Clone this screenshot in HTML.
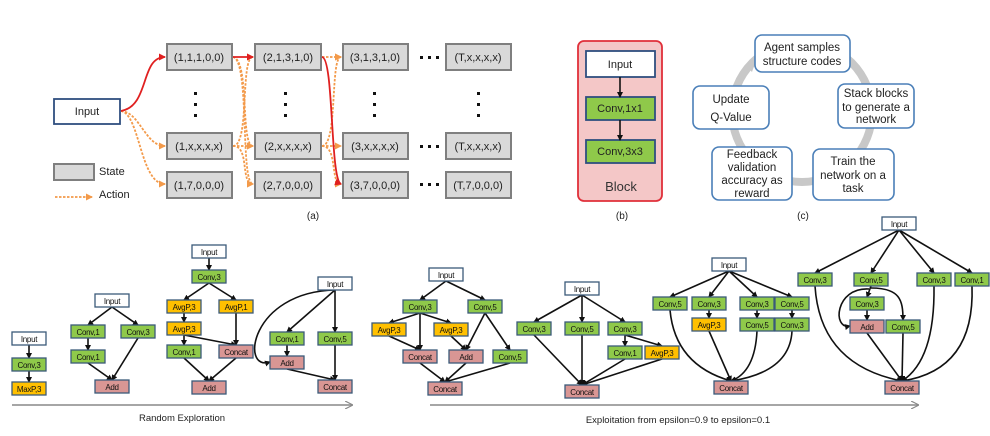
<!DOCTYPE html>
<html><head><meta charset="utf-8"><style>
html,body{margin:0;padding:0;background:#fff;}
svg{display:block;font-family:"Liberation Sans",sans-serif;}
.st{fill:#d9d9d9;stroke:#7f7f7f;stroke-width:2;}
.stt{font-size:11px;text-anchor:middle;fill:#222;}
.n rect{stroke:#3b5a7a;stroke-width:1.3;}
.n text{font-size:8px;text-anchor:middle;fill:#111;letter-spacing:-0.3px;}
.g{fill:#8fc94a;} .y{fill:#ffc000;} .p{fill:#d99694;} .w{fill:#fff;}
.e{stroke:#111;stroke-width:1.6;fill:none;marker-end:url(#ak);}
.red{stroke:#e02020;stroke-width:1.8;fill:none;marker-end:url(#ar);}
.or{stroke:#f39a4a;stroke-width:1.8;fill:none;stroke-dasharray:2.5,1.5;marker-end:url(#ao);}
.cb{fill:#fff;stroke:#4a7fb8;stroke-width:1.6;}
.ct{font-size:11.5px;text-anchor:middle;fill:#222;}
</style></head><body>
<svg width="990" height="436" viewBox="0 0 990 436">
<defs>
<marker id="ak" markerWidth="6" markerHeight="6" refX="5" refY="3" orient="auto" markerUnits="userSpaceOnUse"><path d="M0,0L6,3L0,6z" fill="#111"/></marker>
<marker id="ar" markerWidth="7" markerHeight="7" refX="6" refY="3.5" orient="auto" markerUnits="userSpaceOnUse"><path d="M0,0L7,3.5L0,7z" fill="#e02020"/></marker>
<marker id="ao" markerWidth="7" markerHeight="7" refX="6" refY="3.5" orient="auto" markerUnits="userSpaceOnUse"><path d="M0,0L7,3.5L0,7z" fill="#f39a4a"/></marker>
<marker id="ag" markerWidth="8" markerHeight="8" refX="7" refY="4" orient="auto" markerUnits="userSpaceOnUse"><path d="M0,0L8,4L0,8" fill="none" stroke="#888" stroke-width="1.2"/></marker>
</defs>

<!-- (a) -->
<rect x="54" y="99" width="66" height="25" fill="#fff" stroke="#2f4f7f" stroke-width="1.8"/>
<text x="87" y="115" class="stt">Input</text>
<g>
<rect class="st" x="167" y="44" width="65" height="26"/><text class="stt" x="199" y="61">(1,1,1,0,0)</text>
<rect class="st" x="255" y="44" width="66" height="26"/><text class="stt" x="288" y="61">(2,1,3,1,0)</text>
<rect class="st" x="343" y="44" width="65" height="26"/><text class="stt" x="375" y="61">(3,1,3,1,0)</text>
<rect class="st" x="446" y="44" width="65" height="26"/><text class="stt" x="478" y="61">(T,x,x,x,x)</text>
<rect class="st" x="167" y="133" width="65" height="26"/><text class="stt" x="199" y="150">(1,x,x,x,x)</text>
<rect class="st" x="255" y="133" width="66" height="26"/><text class="stt" x="288" y="150">(2,x,x,x,x)</text>
<rect class="st" x="343" y="133" width="65" height="26"/><text class="stt" x="375" y="150">(3,x,x,x,x)</text>
<rect class="st" x="446" y="133" width="65" height="26"/><text class="stt" x="478" y="150">(T,x,x,x,x)</text>
<rect class="st" x="167" y="172" width="65" height="26"/><text class="stt" x="199" y="189">(1,7,0,0,0)</text>
<rect class="st" x="255" y="172" width="66" height="26"/><text class="stt" x="288" y="189">(2,7,0,0,0)</text>
<rect class="st" x="343" y="172" width="65" height="26"/><text class="stt" x="375" y="189">(3,7,0,0,0)</text>
<rect class="st" x="446" y="172" width="65" height="26"/><text class="stt" x="478" y="189">(T,7,0,0,0)</text>
</g>
<g fill="#111">
<rect x="194" y="92" width="3" height="3"/><rect x="194" y="103" width="3" height="3"/><rect x="194" y="114" width="3" height="3"/>
<rect x="284" y="92" width="3" height="3"/><rect x="284" y="103" width="3" height="3"/><rect x="284" y="114" width="3" height="3"/>
<rect x="373" y="92" width="3" height="3"/><rect x="373" y="103" width="3" height="3"/><rect x="373" y="114" width="3" height="3"/>
<rect x="477" y="92" width="3" height="3"/><rect x="477" y="103" width="3" height="3"/><rect x="477" y="114" width="3" height="3"/>
<rect x="420" y="56" width="3" height="3"/><rect x="428" y="56" width="3" height="3"/><rect x="436" y="56" width="3" height="3"/>
<rect x="420" y="145" width="3" height="3"/><rect x="428" y="145" width="3" height="3"/><rect x="436" y="145" width="3" height="3"/>
<rect x="420" y="183" width="3" height="3"/><rect x="428" y="183" width="3" height="3"/><rect x="436" y="183" width="3" height="3"/>
</g>
<path class="or" d="M121,111 C140,112 145,146 165,146"/>
<path class="or" d="M121,111 C140,114 140,184 165,184"/>
<path class="red" d="M121,111 C150,106 140,57 165,57"/>
<path class="or" d="M233,57 C250,60 240,146 253,146"/>
<path class="or" d="M233,57 C250,60 240,184 253,184"/>
<path class="or" d="M233,146 C250,146 240,57 253,57"/>
<path class="or" d="M233,146 L253,146"/>
<path class="or" d="M233,146 C250,146 240,184 253,184"/>
<path class="red" d="M233,57 L253,57"/>
<path class="or" d="M322,57 L341,57"/>
<path class="or" d="M322,146 C338,146 330,57 341,57"/>
<path class="or" d="M322,146 L341,146"/>
<path class="or" d="M322,146 C338,146 330,184 341,184"/>
<path class="red" d="M322,57 C334,58 330,180 341,184"/>
<rect class="st" x="54" y="164" width="40" height="16"/>
<text x="99" y="175" font-size="11" fill="#222">State</text>
<path class="or" d="M55,197 L92,197"/>
<text x="99" y="198" font-size="11" fill="#222">Action</text>
<text x="313" y="219" font-size="10" text-anchor="middle" fill="#222">(a)</text>

<!-- (b) -->
<rect x="578" y="41" width="84" height="160" rx="6" fill="#f4c7c7" stroke="#e0303a" stroke-width="1.8"/>
<rect x="586" y="51" width="69" height="26" fill="#fff" stroke="#2f4f7f" stroke-width="1.8"/>
<text x="620" y="68" class="stt">Input</text>
<rect x="586" y="97" width="69" height="23" fill="#8fc94a" stroke="#2f4f7f" stroke-width="1.8"/>
<text x="620" y="112" class="stt">Conv,1x1</text>
<rect x="586" y="140" width="69" height="23" fill="#8fc94a" stroke="#2f4f7f" stroke-width="1.8"/>
<text x="620" y="155" class="stt">Conv,3x3</text>
<path class="e" d="M620,77 L620,97"/><path class="e" d="M620,120 L620,140"/>
<text x="621" y="191" font-size="13" text-anchor="middle" fill="#333">Block</text>
<text x="622" y="219" font-size="10" text-anchor="middle" fill="#222">(b)</text>

<!-- (c) -->
<circle cx="802" cy="112" r="70" fill="none" stroke="#c8c8c8" stroke-width="8"/>
<path d="M746,66 L758,55 L752,72 z" fill="#c8c8c8"/>
<rect class="cb" x="755" y="35" width="95" height="37" rx="7"/>
<text class="ct" x="802" y="51">Agent samples</text><text class="ct" x="802" y="65">structure codes</text>
<rect class="cb" x="838" y="84" width="76" height="44" rx="7"/>
<text class="ct" x="876" y="97">Stack blocks</text><text class="ct" x="876" y="111">to generate a</text><text class="ct" x="876" y="123">network</text>
<rect class="cb" x="813" y="149" width="81" height="51" rx="7"/>
<text class="ct" x="853" y="165">Train the</text><text class="ct" x="853" y="179">network on a</text><text class="ct" x="853" y="192">task</text>
<rect class="cb" x="712" y="147" width="80" height="53" rx="7"/>
<text class="ct" x="752" y="158">Feedback</text><text class="ct" x="752" y="171">validation</text><text class="ct" x="752" y="184">accuracy as</text><text class="ct" x="752" y="197">reward</text>
<rect class="cb" x="693" y="86" width="76" height="43" rx="7"/>
<text class="ct" x="731" y="103">Update</text><text class="ct" x="731" y="121">Q-Value</text>
<text x="803" y="219" font-size="10" text-anchor="middle" fill="#222">(c)</text>

<!-- bottom edges -->
<g>
<path class="e" d="M29,345L29,358"/><path class="e" d="M29,371L29,382"/>
<path class="e" d="M112,307L88,325"/><path class="e" d="M112,307L138,325"/><path class="e" d="M88,338L88,350"/><path class="e" d="M88,363L112,380"/><path class="e" d="M138,338L112,380"/>
<path class="e" d="M209,258L209,270"/><path class="e" d="M209,283L184,300"/><path class="e" d="M209,283L236,300"/><path class="e" d="M184,313L184,322"/><path class="e" d="M236,313L236,345"/><path class="e" d="M184,335L184,345"/><path class="e" d="M184,335L236,345"/><path class="e" d="M184,358L209,381"/><path class="e" d="M236,358L209,381"/>
<path class="e" d="M335,290L287,332"/><path class="e" d="M335,290L335,332"/><path class="e" d="M287,345L287,356"/><path class="e" d="M287,369L335,380"/><path class="e" d="M335,345L335,380"/><path class="e" d="M335,290 C250,292 240,372 270,362"/>
<path class="e" d="M446,281L420,300"/><path class="e" d="M446,281L485,300"/><path class="e" d="M420,313L389,323"/><path class="e" d="M420,313L451,323"/><path class="e" d="M420,313L420,350"/><path class="e" d="M389,336L420,350"/><path class="e" d="M451,336L466,350"/><path class="e" d="M485,313L466,350"/><path class="e" d="M485,313L510,350"/><path class="e" d="M420,363L445,382"/><path class="e" d="M466,363L445,382"/><path class="e" d="M510,363L445,382"/>
<path class="e" d="M582,295L534,322"/><path class="e" d="M582,295L582,322"/><path class="e" d="M582,295L625,322"/><path class="e" d="M625,335L625,346"/><path class="e" d="M625,335L662,346"/><path class="e" d="M534,335L582,385"/><path class="e" d="M582,335L582,385"/><path class="e" d="M625,359L582,385"/><path class="e" d="M662,359L582,385"/>
<path class="e" d="M729,271L670,297"/><path class="e" d="M729,271L709,297"/><path class="e" d="M729,271L757,297"/><path class="e" d="M729,271L792,297"/>
<path class="e" d="M709,310L709,318"/><path class="e" d="M757,310L757,318"/><path class="e" d="M792,310L792,318"/>
<path class="e" d="M670,310 Q675,365 731,381"/><path class="e" d="M709,331L731,381"/><path class="e" d="M757,331 Q755,372 731,381"/><path class="e" d="M792,331 Q790,372 731,381"/>
<path class="e" d="M899,230L815,273"/><path class="e" d="M899,230L871,273"/><path class="e" d="M899,230L934,273"/><path class="e" d="M899,230L972,273"/>
<path class="e" d="M871,286L867,297"/><path class="e" d="M871,288 C900,288 903,300 903,320"/><path class="e" d="M867,310L867,320"/><path class="e" d="M869,289 C835,287 832,330 850,326"/>
<path class="e" d="M815,286 Q820,365 902,381"/><path class="e" d="M867,333L902,381"/><path class="e" d="M903,333L902,381"/><path class="e" d="M934,286 Q935,360 902,381"/><path class="e" d="M972,286 Q975,370 902,381"/>
</g>

<!-- bottom nodes -->
<g class="n">
<rect class="w" x="12" y="332" width="34" height="13"/><text x="29" y="342">Input</text>
<rect class="g" x="12" y="358" width="34" height="13"/><text x="29" y="368">Conv,3</text>
<rect class="y" x="12" y="382" width="34" height="13"/><text x="29" y="392">MaxP,3</text>

<rect class="w" x="95" y="294" width="34" height="13"/><text x="112" y="304">Input</text>
<rect class="g" x="71" y="325" width="34" height="13"/><text x="88" y="335">Conv,1</text>
<rect class="g" x="121" y="325" width="34" height="13"/><text x="138" y="335">Conv,3</text>
<rect class="g" x="71" y="350" width="34" height="13"/><text x="88" y="360">Conv,1</text>
<rect class="p" x="95" y="380" width="34" height="13"/><text x="112" y="390">Add</text>

<rect class="w" x="192" y="245" width="34" height="13"/><text x="209" y="255">Input</text>
<rect class="g" x="192" y="270" width="34" height="13"/><text x="209" y="280">Conv,3</text>
<rect class="y" x="167" y="300" width="34" height="13"/><text x="184" y="310">AvgP,3</text>
<rect class="y" x="219" y="300" width="34" height="13"/><text x="236" y="310">AvgP,1</text>
<rect class="y" x="167" y="322" width="34" height="13"/><text x="184" y="332">AvgP,3</text>
<rect class="g" x="167" y="345" width="34" height="13"/><text x="184" y="355">Conv,1</text>
<rect class="p" x="219" y="345" width="34" height="13"/><text x="236" y="355">Concat</text>
<rect class="p" x="192" y="381" width="34" height="13"/><text x="209" y="391">Add</text>

<rect class="w" x="318" y="277" width="34" height="13"/><text x="335" y="287">Input</text>
<rect class="g" x="270" y="332" width="34" height="13"/><text x="287" y="342">Conv,1</text>
<rect class="g" x="318" y="332" width="34" height="13"/><text x="335" y="342">Conv,5</text>
<rect class="p" x="270" y="356" width="34" height="13"/><text x="287" y="366">Add</text>
<rect class="p" x="318" y="380" width="34" height="13"/><text x="335" y="390">Concat</text>

<rect class="w" x="429" y="268" width="34" height="13"/><text x="446" y="278">Input</text>
<rect class="g" x="403" y="300" width="34" height="13"/><text x="420" y="310">Conv,3</text>
<rect class="g" x="468" y="300" width="34" height="13"/><text x="485" y="310">Conv,5</text>
<rect class="y" x="372" y="323" width="34" height="13"/><text x="389" y="333">AvgP,3</text>
<rect class="y" x="434" y="323" width="34" height="13"/><text x="451" y="333">AvgP,3</text>
<rect class="p" x="403" y="350" width="34" height="13"/><text x="420" y="360">Concat</text>
<rect class="p" x="449" y="350" width="34" height="13"/><text x="466" y="360">Add</text>
<rect class="g" x="493" y="350" width="34" height="13"/><text x="510" y="360">Conv,5</text>
<rect class="p" x="428" y="382" width="34" height="13"/><text x="445" y="392">Concat</text>

<rect class="w" x="565" y="282" width="34" height="13"/><text x="582" y="292">Input</text>
<rect class="g" x="517" y="322" width="34" height="13"/><text x="534" y="332">Conv,3</text>
<rect class="g" x="565" y="322" width="34" height="13"/><text x="582" y="332">Conv,5</text>
<rect class="g" x="608" y="322" width="34" height="13"/><text x="625" y="332">Conv,3</text>
<rect class="g" x="608" y="346" width="34" height="13"/><text x="625" y="356">Conv,1</text>
<rect class="y" x="645" y="346" width="34" height="13"/><text x="662" y="356">AvgP,3</text>
<rect class="p" x="565" y="385" width="34" height="13"/><text x="582" y="395">Concat</text>

<rect class="w" x="712" y="258" width="34" height="13"/><text x="729" y="268">Input</text>
<rect class="g" x="653" y="297" width="34" height="13"/><text x="670" y="307">Conv,5</text>
<rect class="g" x="692" y="297" width="34" height="13"/><text x="709" y="307">Conv,3</text>
<rect class="g" x="740" y="297" width="34" height="13"/><text x="757" y="307">Conv,3</text>
<rect class="g" x="775" y="297" width="34" height="13"/><text x="792" y="307">Conv,5</text>
<rect class="y" x="692" y="318" width="34" height="13"/><text x="709" y="328">AvgP,3</text>
<rect class="g" x="740" y="318" width="34" height="13"/><text x="757" y="328">Conv,5</text>
<rect class="g" x="775" y="318" width="34" height="13"/><text x="792" y="328">Conv,3</text>
<rect class="p" x="714" y="381" width="34" height="13"/><text x="731" y="391">Concat</text>

<rect class="w" x="882" y="217" width="34" height="13"/><text x="899" y="227">Input</text>
<rect class="g" x="798" y="273" width="34" height="13"/><text x="815" y="283">Conv,3</text>
<rect class="g" x="854" y="273" width="34" height="13"/><text x="871" y="283">Conv,5</text>
<rect class="g" x="917" y="273" width="34" height="13"/><text x="934" y="283">Conv,3</text>
<rect class="g" x="955" y="273" width="34" height="13"/><text x="972" y="283">Conv,1</text>
<rect class="g" x="850" y="297" width="34" height="13"/><text x="867" y="307">Conv,3</text>
<rect class="p" x="850" y="320" width="34" height="13"/><text x="867" y="330">Add</text>
<rect class="g" x="886" y="320" width="34" height="13"/><text x="903" y="330">Conv,5</text>
<rect class="p" x="885" y="381" width="34" height="13"/><text x="902" y="391">Concat</text>
</g>

<path d="M12,405 L352,405" stroke="#888" stroke-width="1.6" marker-end="url(#ag)"/>
<text x="182" y="421" font-size="9.5" text-anchor="middle" fill="#222">Random Exploration</text>
<path d="M430,405 L918,405" stroke="#888" stroke-width="1.6" marker-end="url(#ag)"/>
<text x="678" y="423" font-size="9.5" text-anchor="middle" fill="#222">Exploitation from epsilon=0.9 to epsilon=0.1</text>
</svg>
</body></html>
